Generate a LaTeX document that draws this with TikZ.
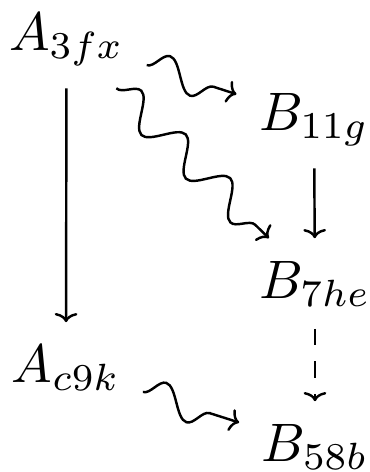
\documentclass[tikz,border=0pt]{standalone}
\usepackage{amsmath}
\usetikzlibrary{arrows.meta, decorations.pathmorphing}

\begin{document}
\begin{tikzpicture}[
    x=0.1845pt, y=-0.1845pt,
    obj/.style={inner sep=4pt, anchor=base},
    arr/.style={-{To[length=1.7pt, width=4.2pt]}, line width=0.45pt},
    squig/.style={arr, decorate, decoration={snake, amplitude=2.9pt,
                  segment length=11.5pt, post length=2pt}}
  ]
    \useasboundingbox (0,0) rectangle (370,472);
    \node[obj] (a3fx) at (66.5, 50) {$A_{3fx}$};
    \node[obj] (b11g) at (314, 130) {$B_{11g}$};
    \node[obj] (b7he) at (315, 298) {$B_{7he}$};
    \node[obj] (ac9k) at (66, 382) {$A_{c9k}$};
    \node[obj] (b58b) at (315, 461) {$B_{58b}$};
    \draw[arr] (a3fx) -- (ac9k);
    \draw[arr] (b11g) -- (b7he);
    \draw[arr, dashed] (b7he) -- (b58b);
    \draw[squig] (a3fx) -- (b11g);
    \draw[squig] (a3fx) -- (b7he);
    \draw[squig] (ac9k) -- (b58b);
\end{tikzpicture}
\end{document}
